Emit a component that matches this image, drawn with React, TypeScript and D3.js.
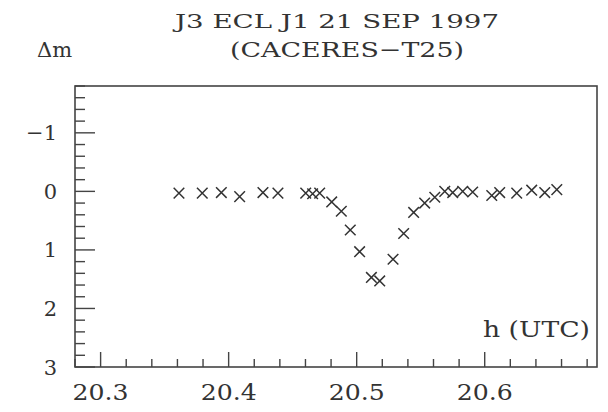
import React from "react";
import * as d3 from "d3";

const titleLine1 = "J3 ECL J1 21 SEP 1997";
const titleLine2 = "(CACERES\u2212T25)";
const yAxisLabel = "\u0394m";
const xAxisLabel = "h (UTC)";

const times = [
  20.3612, 20.3794, 20.3943, 20.4086, 20.4268, 20.4385, 20.4602, 20.4656,
  20.4711, 20.4805, 20.488, 20.495, 20.5023, 20.5115, 20.518, 20.5284,
  20.5367, 20.5445, 20.5531, 20.561, 20.5688, 20.575, 20.5828, 20.5906,
  20.6055, 20.6117, 20.625, 20.6367, 20.6469, 20.6563,
];
const dmag = [
  0.03, 0.03, 0.02, 0.09, 0.02, 0.03, 0.03, 0.04, 0.03, 0.18, 0.34, 0.66,
  1.03, 1.47, 1.53, 1.16, 0.72, 0.36, 0.2, 0.1, 0.0, 0.02, 0.0, 0.01, 0.07,
  0.02, 0.03, -0.02, 0.02, -0.03,
];

const xMajorTicks = [20.3, 20.4, 20.5, 20.6];
const xTickLabels = ["20.3", "20.4", "20.5", "20.6"];
const yMajorTicks = [-1, 0, 1, 2, 3];
const yTickLabels = ["\u22121", "0", "1", "2", "3"];

const W = 608;
const H = 412;
const left = 75;
const right = 597;
const top = 86;
const bottom = 367;
const ink = "#333";
const font = "'DejaVu Serif', serif";

export default function App() {
  const x = d3.scaleLinear().domain([20.28, 20.6877]).range([left, right]);
  const y = d3.scaleLinear().domain([-1.8, 3]).range([top, bottom]);

  const xMinor = d3.range(20.28, 20.6877, 0.02).filter(
    (v) => !xMajorTicks.some((m) => Math.abs(m - v) < 1e-6)
  );
  const yMinor = d3.range(-1.8, 3.0001, 0.2).filter(
    (v) => !yMajorTicks.some((m) => Math.abs(m - v) < 1e-6)
  );

  const s = 5.3;
  return (
    <svg
      width={W}
      height={H}
      style={{ position: "absolute", left: 0, top: 0, background: "#fff" }}
    >
      <rect x={0} y={0} width={W} height={H} fill="#fff" />
      <rect
        x={left}
        y={top}
        width={right - left}
        height={bottom - top}
        fill="none"
        stroke="#444"
        strokeWidth={1.6}
      />
      {xMajorTicks.map((v) => (
        <line key={"xM" + v} x1={x(v)} x2={x(v)} y1={bottom} y2={bottom - 15} stroke="#444" strokeWidth={1.4} />
      ))}
      {xMinor.map((v) => (
        <line key={"xm" + v} x1={x(v)} x2={x(v)} y1={bottom} y2={bottom - 8} stroke="#444" strokeWidth={1.4} />
      ))}
      {yMajorTicks.map((v) => (
        <line key={"yM" + v} x1={left} x2={left + 20} y1={y(v)} y2={y(v)} stroke="#444" strokeWidth={1.4} />
      ))}
      {yMinor.map((v) => (
        <line key={"ym" + v} x1={left} x2={left + 10} y1={y(v)} y2={y(v)} stroke="#444" strokeWidth={1.4} />
      ))}
      {xMajorTicks.map((v, i) => (
        <text
          key={"xl" + v}
          x={x(v)}
          y={400}
          textAnchor="middle"
          fontFamily={font}
          fontSize={22}
          fill={ink}
          textLength={56}
          lengthAdjust="spacingAndGlyphs"
        >
          {xTickLabels[i]}
        </text>
      ))}
      {yMajorTicks.map((v, i) => (
        <text
          key={"yl" + v}
          x={57}
          y={y(v) + 7.5}
          textAnchor="end"
          fontFamily={font}
          fontSize={21}
          fill={ink}
        >
          {yTickLabels[i]}
        </text>
      ))}
      {times.map((t, i) => {
        const cx = x(t);
        const cy = y(dmag[i]);
        return (
          <path
            key={"p" + i}
            d={`M${cx - s},${cy - s}L${cx + s},${cy + s}M${cx - s},${cy + s}L${cx + s},${cy - s}`}
            stroke={ink}
            strokeWidth={1.5}
            fill="none"
          />
        );
      })}
      <text
        x={337}
        y={28}
        textAnchor="middle"
        fontFamily={font}
        fontSize={18}
        fill={ink}
        textLength={324}
        lengthAdjust="spacingAndGlyphs"
      >
        {titleLine1}
      </text>
      <text
        x={347}
        y={57}
        textAnchor="middle"
        fontFamily={font}
        fontSize={21}
        fill={ink}
        textLength={234}
        lengthAdjust="spacingAndGlyphs"
      >
        {titleLine2}
      </text>
      <text x={37} y={57} fontFamily={font} fontSize={21} fill={ink}>
        {yAxisLabel}
      </text>
      <text
        x={590}
        y={337}
        textAnchor="end"
        fontFamily={font}
        fontSize={22}
        fill={ink}
        textLength={107}
        lengthAdjust="spacingAndGlyphs"
      >
        {xAxisLabel}
      </text>
    </svg>
  );
}
